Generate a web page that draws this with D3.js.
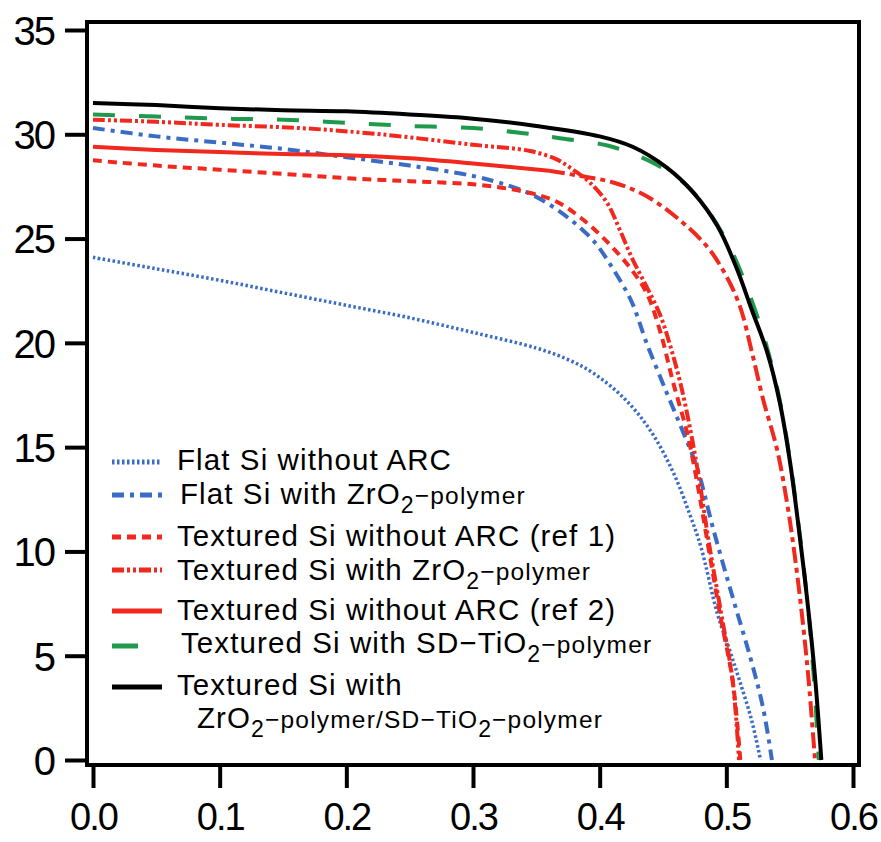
<!DOCTYPE html>
<html><head><meta charset="utf-8">
<script src="https://cdn.jsdelivr.net/npm/d3@7"></script>
<style>body{margin:0;background:#fff}svg{display:block}</style>
</head><body><svg id="c" width="881" height="842"></svg>
<script>
const xTicks = [0.0,0.1,0.2,0.3,0.4,0.5,0.6];
const yTicks = [0,5,10,15,20,25,30,35];

const flatNoArc = [[0,24.1],[0.05,23.55],[0.1,23.0],[0.15,22.4],[0.2,21.8],[0.25,21.2],[0.3,20.5],[0.35,19.75],[0.375,19.2],[0.395,18.55],[0.42,17.3],[0.44,15.8],[0.458,13.8],[0.471,11.8],[0.48,10.2],[0.493,7.0],[0.503,5.2],[0.511,3.7],[0.52,1.9],[0.527,0]];
const flatZrO2 = [[0,30.3],[0.05,29.9],[0.1,29.6],[0.15,29.3],[0.2,28.9],[0.25,28.5],[0.3,28.0],[0.33,27.5],[0.35,27.0],[0.375,26.0],[0.395,24.9],[0.41,23.6],[0.425,22.0],[0.437,20.0],[0.453,17.6],[0.466,15.7],[0.477,14.0],[0.49,11.0],[0.505,7.8],[0.519,4.9],[0.529,2.5],[0.536,0]];
const texRef1 = [[0,28.75],[0.05,28.5],[0.1,28.3],[0.15,28.1],[0.2,27.9],[0.25,27.75],[0.3,27.6],[0.34,27.25],[0.365,26.8],[0.385,26.0],[0.405,24.9],[0.424,23.6],[0.437,22.4],[0.448,20.5],[0.458,18.1],[0.469,15.7],[0.477,13.3],[0.485,10.5],[0.495,7.0],[0.505,3.8],[0.511,0]];
const texZrO2 = [[0,30.7],[0.05,30.6],[0.1,30.45],[0.163,30.3],[0.227,30.0],[0.3,29.5],[0.345,29.2],[0.366,28.8],[0.379,28.3],[0.392,27.7],[0.406,26.7],[0.416,25.4],[0.426,24.0],[0.437,22.7],[0.448,21.3],[0.456,19.8],[0.464,18.0],[0.472,15.7],[0.479,13.3],[0.486,10.5],[0.496,7.0],[0.505,3.8],[0.51,0]];
const texRef2 = [[0,29.4],[0.05,29.25],[0.1,29.15],[0.15,29.05],[0.2,29.0],[0.25,28.85],[0.3,28.6],[0.36,28.25],[0.385,28.0],[0.41,27.7],[0.435,27.1],[0.461,26.0],[0.485,24.6],[0.5,23.2],[0.511,21.7],[0.52,19.6],[0.529,17.3],[0.54,14.9],[0.548,12.3],[0.554,9.8],[0.56,6.8],[0.565,3.8],[0.57,0]];
const texSdTiO2 = [[0,30.95],[0.05,30.85],[0.1,30.75],[0.15,30.7],[0.2,30.55],[0.25,30.4],[0.3,30.3],[0.34,30.05],[0.37,29.8],[0.407,29.45],[0.44,28.7],[0.466,27.7],[0.487,26.2],[0.505,24.3],[0.519,22.2],[0.532,19.8],[0.542,17.3],[0.55,14.5],[0.557,11.3],[0.564,7.6],[0.569,4.0],[0.573,0]];
const texBoth = [[0,31.5],[0.05,31.4],[0.1,31.25],[0.15,31.15],[0.2,31.1],[0.25,30.95],[0.3,30.75],[0.35,30.4],[0.4,29.9],[0.426,29.4],[0.453,28.4],[0.474,27.2],[0.493,25.6],[0.508,23.6],[0.52,21.6],[0.532,19.6],[0.542,17.2],[0.55,14.4],[0.557,11.2],[0.564,7.6],[0.57,4.0],[0.575,0]];

const ref2Split = 0.36;

const BLUE = "#3a6cc6", RED = "#f0281e", GREEN = "#1f9a4c", BLACK = "#000";

const svg = d3.select("#c");
const x = d3.scaleLinear().domain([0,0.6]).range([93,853]);
const y = d3.scaleLinear().domain([0,35]).range([760,30]);

svg.append("rect").attr("x",87).attr("y",22).attr("width",772).attr("height",743)
  .attr("fill","none").attr("stroke","#000").attr("stroke-width",4);

const xAxis = svg.append("g").attr("transform","translate(0,765)")
  .call(d3.axisBottom(x).tickValues(xTicks).tickFormat(d3.format(".1f")).tickSize(23).tickPadding(12));
const yAxis = svg.append("g").attr("transform","translate(87,0)")
  .call(d3.axisLeft(y).tickValues(yTicks).tickFormat(d3.format("d")).tickSize(22).tickPadding(12));
[xAxis,yAxis].forEach(g=>{
  g.select(".domain").remove();
  g.selectAll(".tick line").attr("stroke","#000").attr("stroke-width",4);
  g.selectAll(".tick text").attr("fill","#000").attr("font-size",40)
    .attr("font-family","Liberation Sans, Arial, sans-serif").attr("letter-spacing",-2);
});
yAxis.selectAll(".tick text").attr("x",-33).attr("dy","0.36em");
xAxis.selectAll(".tick text").attr("y",38).attr("dy","0.71em").attr("font-size",38);

const line = d3.line().x(d=>x(d[0])).y(d=>y(d[1])).curve(d3.curveCatmullRom.alpha(0.5));

const series = [
  {data: flatNoArc, color: BLUE, dash: "2.5,2.5", w: 3.5},
  {data: flatZrO2, color: BLUE, dash: "12,6,4,6", w: 4},
  {data: texRef1, color: RED, dash: "9,6", w: 4},
  {data: texZrO2, color: RED, dash: "12,3,3,3,3,3", w: 4},
  {data: texRef2.filter(d=>d[0]<=ref2Split), color: RED, dash: null, w: 4},
  {data: texRef2.filter(d=>d[0]>=ref2Split), color: RED, dash: "16,5,5,5", w: 4},
  {data: texSdTiO2, color: GREEN, dash: "22,24", w: 4},
  {data: texBoth, color: BLACK, dash: null, w: 4}
];
svg.append("g").selectAll("path").data(series).join("path")
  .attr("d",s=>line(s.data)).attr("fill","none")
  .attr("stroke",s=>s.color).attr("stroke-width",s=>s.w)
  .attr("stroke-dasharray",s=>s.dash);

const legend = [
  {color: BLUE, dash: "2.5,2.5", ly: 462, tx: 177, ty: 470, x2: 162, parts: [["Flat Si without ARC"]]},
  {color: BLUE, dash: "12,6,4,6", ly: 495, tx: 180, ty: 504, x2: 162, parts: [["Flat Si with ZrO"],["2","sub"],["−polymer","small"]]},
  {color: RED, dash: "9,6", ly: 537, tx: 177, ty: 546, x2: 162, parts: [["Textured Si without ARC (ref 1)"]]},
  {color: RED, dash: "12,3,3,3,3,3", ly: 570, tx: 177, ty: 580, x2: 162, parts: [["Textured Si with ZrO"],["2","sub"],["−polymer","small"]]},
  {color: RED, dash: null, ly: 611, tx: 177, ty: 620, x2: 162, parts: [["Textured Si without ARC (ref 2)"]]},
  {color: GREEN, dash: null, ly: 646, tx: 181, ty: 653, x2: 138, parts: [["Textured Si with SD−TiO"],["2","sub"],["−polymer","small"]]},
  {color: BLACK, dash: null, ly: 687, tx: 177, ty: 695, x2: 162, parts: [["Textured Si with"]]},
  {color: null, dash: null, ly: 0, tx: 197, ty: 728, x2: 0, parts: [["ZrO"],["2","sub"],["−polymer/SD−TiO","small"],["2","sub"],["−polymer","small"]]}
];
const lg = svg.append("g");
legend.forEach(e=>{
  if (e.color) lg.append("line").attr("x1",112).attr("x2",e.x2).attr("y1",e.ly).attr("y2",e.ly)
    .attr("stroke",e.color).attr("stroke-width",5).attr("stroke-dasharray",e.dash);
  const t = lg.append("text").attr("x",e.tx).attr("y",e.ty)
    .attr("font-family","Liberation Sans, Arial, sans-serif").attr("font-size",29.5)
    .attr("letter-spacing",1.1).attr("fill","#000");
  e.parts.forEach(p=>{
    const ts = t.append("tspan").text(p[0]);
    const kind = p[1]||"main";
    if (kind==="sub") ts.attr("font-size",23).attr("y", e.ty+9);
    else if (kind==="small") ts.attr("font-size",24.5).attr("y", e.ty).attr("letter-spacing",1.2);
  });
});
</script></body></html>
